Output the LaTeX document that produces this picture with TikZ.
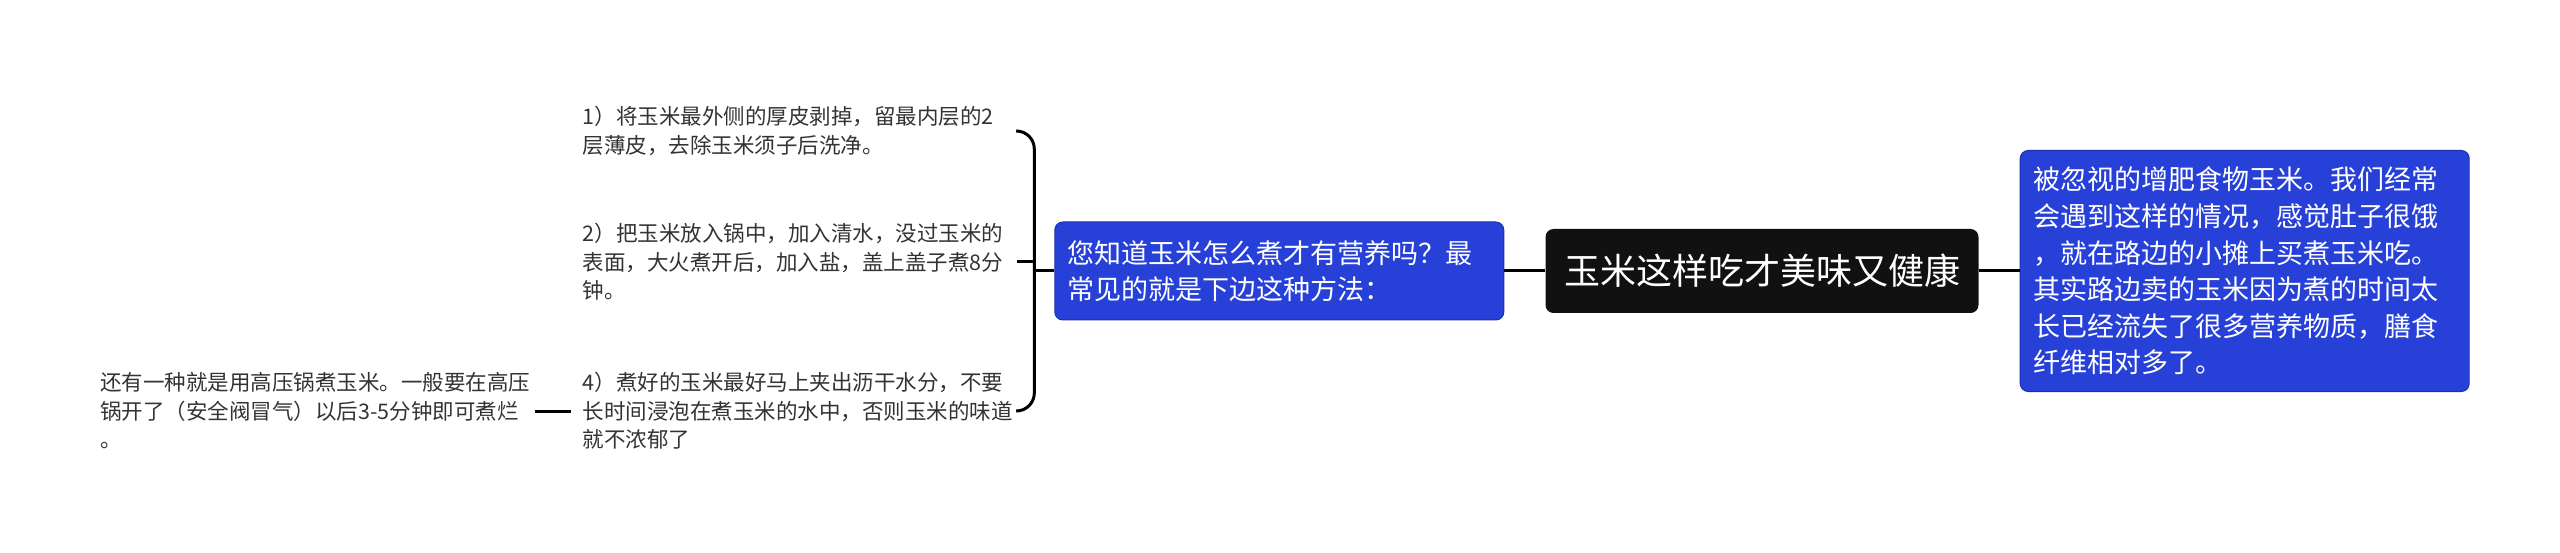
\documentclass[tikz,border=0pt]{standalone}
\usepackage{fontspec}
\setmainfont{Noto Sans CJK SC}
\usetikzlibrary{positioning}
\definecolor{nodeblue}{HTML}{2741D8}
\definecolor{nodeedge}{HTML}{1B30B0}
\definecolor{rootblack}{HTML}{111111}
\definecolor{textgray}{HTML}{333333}

\begin{document}
\begin{tikzpicture}[
  x=1pt, y=-1pt,
  node distance=41pt,
  root/.style={fill=rootblack, rounded corners=8pt, text=white,
               font=\fontsize{36}{44}\selectfont, minimum width=433pt,
               minimum height=84pt, inner sep=0pt},
  topic/.style={fill=nodeblue, draw=nodeedge, line width=1pt, rounded corners=8pt,
                text=white, font=\fontsize{27}{36.6}\selectfont,
                text width=423pt, inner xsep=13pt, align=left},
  item/.style={text=textgray, font=\fontsize{21.5}{28.5}\selectfont,
               text width=434pt, inner sep=0pt, align=left},
  link/.style={line width=3pt, draw=black}
]
\useasboundingbox (0,0) rectangle (2560,553);

\node[root] (corn) at (1762,271) {玉米这样吃才美味又健康};
\node[topic, minimum height=98pt, left=of corn] (ask)
  {您知道玉米怎么煮才有营养吗？最\\常见的就是下边这种方法：};
\node[topic, minimum height=241pt, right=of corn] (fact)
  {被忽视的增肥食物玉米。我们经常\\会遇到这样的情况，感觉肚子很饿\\，就在路边的小摊上买煮玉米吃。\\其实路边卖的玉米因为煮的时间太\\长已经流失了很多营养物质，膳食\\纤维相对多了。};
\coordinate[left=20pt of ask.west] (hub);

\node[item, anchor=east] (step1) at (1017,131)
  {1）将玉米最外侧的厚皮剥掉，留最内层的2\\层薄皮，去除玉米须子后洗净。};
\node[item, anchor=east] (step2) at (1017,262)
  {2）把玉米放入锅中，加入清水，没过玉米的\\表面，大火煮开后，加入盐，盖上盖子煮8分\\钟。};
\node[item, anchor=east] (step4) at (1017,411)
  {4）煮好的玉米最好马上夹出沥干水分，不要\\长时间浸泡在煮玉米的水中，否则玉米的味道\\就不浓郁了};
\node[item, text width=430pt, left=52pt of step4] (cooker)
  {还有一种就是用高压锅煮玉米。一般要在高压\\锅开了（安全阀冒气）以后3-5分钟即可煮烂\\。};

\draw[link] (corn) -- (ask);
\draw[link] (corn) -- (fact);
\draw[link] (ask.west) -- (hub);
\draw[link, rounded corners=18pt] (step1.east) -| (hub) |- (step4.east);
\draw[link] (step2.east) -- (step2.east -| hub);
\draw[link, shorten <=4pt, shorten >=12pt] (cooker) -- (step4);
\end{tikzpicture}
\end{document}
